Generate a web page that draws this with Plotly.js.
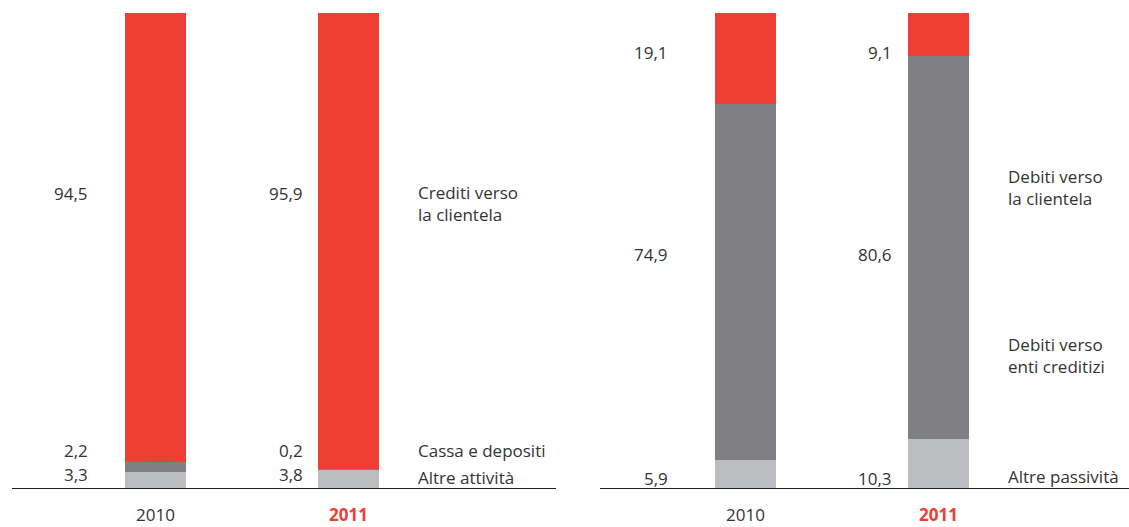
<!DOCTYPE html>
<html>
<head>
<meta charset="utf-8">
<script src="https://cdn.plot.ly/plotly-3.0.1.min.js"></script>
<style>html,body{margin:0;padding:0;background:#fff;}#chart{width:1129px;height:527px;}</style>
</head>
<body>
<div id="chart"></div>
<script>
// ---- data ----
const years = ['2010', '2011'];
// Attività (left panel)
const altreAttivita = [3.3, 3.8];
const cassaDepositi = [2.2, 0.2];
const creditiClientela = [94.5, 95.9];
// Passività (right panel)
const altrePassivita = [5.9, 10.3];
const debitiEnti = [74.9, 80.6];
const debitiClientela = [19.1, 9.1];
// category labels
const labelsLeft = ['Altre attività', 'Cassa e depositi', 'Crediti verso<br>la clientela'];
const labelsRight = ['Altre passività', 'Debiti verso<br>enti creditizi', 'Debiti verso<br>la clientela'];

// ---- styles ----
const RED = '#EF3E33', DARK = '#808084', LIGHT = '#BCBDC0', TXT = '#333333';
const FONT = 'Open Sans, Noto Sans, sans-serif';
const FS = 17;
const BW = 0.316;
const fmt = v => v.toFixed(1).replace('.', ',');
const pos = [0, 1];

function bar(vals, color, xa, ya) {
  return {type: 'bar', x: pos, y: vals, width: BW, marker: {color: color, line: {width: 0}},
          xaxis: xa, yaxis: ya, hoverinfo: 'none', showlegend: false};
}

const data = [
  bar(altreAttivita, LIGHT, 'x', 'y'),
  bar(cassaDepositi, DARK, 'x', 'y'),
  bar(creditiClientela, RED, 'x', 'y'),
  bar(altrePassivita, LIGHT, 'x2', 'y2'),
  bar(debitiEnti, DARK, 'x2', 'y2'),
  bar(debitiClientela, RED, 'x2', 'y2')
];

// label layout (positions in data units of the y axis)
const annotations = [];
function valLabel(xref, yref, i, v, yPos, shift) {
  annotations.push({xref: xref, yref: yref, x: i, y: yPos, text: fmt(v), showarrow: false,
    xanchor: 'right', yanchor: 'middle', xshift: shift, font: {family: FONT, size: FS, color: TXT}});
}
// left panel
const leftShift = [-66, -44];
const leftY = {a: 2.9, c: 7.8, r: 62.1};
for (let i = 0; i < 2; i++) {
  valLabel('x', 'y', i, altreAttivita[i], leftY.a, leftShift[i]);
  valLabel('x', 'y', i, cassaDepositi[i], leftY.c, leftShift[i]);
  valLabel('x', 'y', i, creditiClientela[i], leftY.r, leftShift[i]);
}
// right panel
const rightShift = [-76, -45];
const rightY = {a: 2.1, d: 49.1, r: 91.6};
for (let i = 0; i < 2; i++) {
  valLabel('x2', 'y2', i, altrePassivita[i], rightY.a, rightShift[i]);
  valLabel('x2', 'y2', i, debitiEnti[i], rightY.d, rightShift[i]);
  valLabel('x2', 'y2', i, debitiClientela[i], rightY.r, rightShift[i]);
}
function catLabel(xref, yref, text, yPos) {
  annotations.push({xref: xref, yref: yref, x: 1.36, y: yPos, text: text, showarrow: false,
    xanchor: 'left', yanchor: 'middle', align: 'left', xshift: -2, font: {family: FONT, size: FS, color: TXT}});
}
catLabel('x', 'y', labelsLeft[0], 2.3);
catLabel('x', 'y', labelsLeft[1], 7.8);
catLabel('x', 'y', labelsLeft[2], 59.8);
catLabel('x2', 'y2', labelsRight[0], 2.5);
catLabel('x2', 'y2', labelsRight[1], 28.0);
catLabel('x2', 'y2', labelsRight[2], 63.2);

const tickText = [years[0], '<span style="color:' + RED + '"><b>' + years[1] + '</b></span>'];
function xAxis(domain, range, anchor) {
  return {domain: domain, range: range, anchor: anchor, type: 'linear', tickvals: pos, ticktext: tickText,
    ticks: '', showgrid: false, zeroline: false, showline: true, linecolor: '#222', linewidth: 1,
    tickfont: {family: FONT, size: FS, color: TXT}, ticklabelstandoff: 12, fixedrange: true};
}
function yAxis(anchor) {
  return {domain: [39 / 527, 514 / 527], range: [0, 100], anchor: anchor, visible: false,
    showgrid: false, zeroline: false, fixedrange: true};
}

const layout = {
  width: 1129, height: 527, margin: {l: 0, r: 0, t: 0, b: 0},
  paper_bgcolor: '#fff', plot_bgcolor: '#fff', barmode: 'stack', bargap: 0,
  font: {family: FONT, size: FS, color: TXT},
  xaxis: xAxis([12 / 1129, 556 / 1129], [-0.7435, 2.075], 'y'),
  yaxis: yAxis('x'),
  xaxis2: xAxis([600 / 1129, 1], [-0.754, 1.987], 'y2'),
  yaxis2: yAxis('x2'),
  annotations: annotations
};

Plotly.newPlot('chart', data, layout, {displayModeBar: false, staticPlot: true});
</script>
</body>
</html>
